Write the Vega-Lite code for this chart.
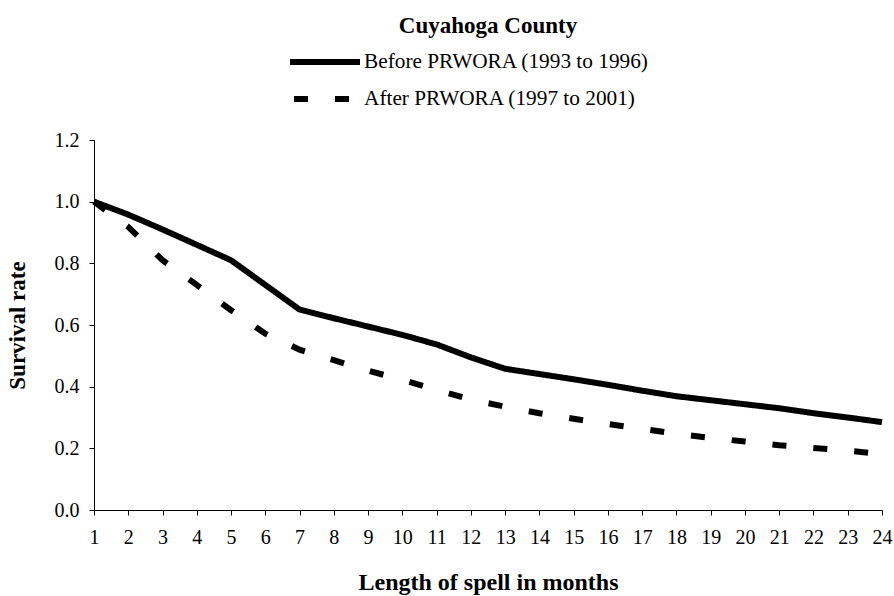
{
  "$schema": "https://vega.github.io/schema/vega-lite/v6.json",
  "width": 788,
  "height": 370,
  "autosize": "none",
  "padding": {"left": 94, "top": 140, "right": 12, "bottom": 86},
  "background": "white",
  "title": {
    "text": "Cuyahoga County",
    "font": "Liberation Serif",
    "fontSize": 23,
    "fontWeight": "bold",
    "color": "black",
    "anchor": "middle",
    "frame": "group",
    "offset": 12
  },
  "data": {
    "values": [
      {"month": 1, "rate": 1.0, "period": "Before PRWORA (1993 to 1996)"},
      {"month": 2, "rate": 0.958, "period": "Before PRWORA (1993 to 1996)"},
      {"month": 3, "rate": 0.91, "period": "Before PRWORA (1993 to 1996)"},
      {"month": 4, "rate": 0.86, "period": "Before PRWORA (1993 to 1996)"},
      {"month": 5, "rate": 0.81, "period": "Before PRWORA (1993 to 1996)"},
      {"month": 6, "rate": 0.73, "period": "Before PRWORA (1993 to 1996)"},
      {"month": 7, "rate": 0.65, "period": "Before PRWORA (1993 to 1996)"},
      {"month": 8, "rate": 0.622, "period": "Before PRWORA (1993 to 1996)"},
      {"month": 9, "rate": 0.595, "period": "Before PRWORA (1993 to 1996)"},
      {"month": 10, "rate": 0.568, "period": "Before PRWORA (1993 to 1996)"},
      {"month": 11, "rate": 0.537, "period": "Before PRWORA (1993 to 1996)"},
      {"month": 12, "rate": 0.495, "period": "Before PRWORA (1993 to 1996)"},
      {"month": 13, "rate": 0.458, "period": "Before PRWORA (1993 to 1996)"},
      {"month": 14, "rate": 0.441, "period": "Before PRWORA (1993 to 1996)"},
      {"month": 15, "rate": 0.424, "period": "Before PRWORA (1993 to 1996)"},
      {"month": 16, "rate": 0.406, "period": "Before PRWORA (1993 to 1996)"},
      {"month": 17, "rate": 0.387, "period": "Before PRWORA (1993 to 1996)"},
      {"month": 18, "rate": 0.369, "period": "Before PRWORA (1993 to 1996)"},
      {"month": 19, "rate": 0.356, "period": "Before PRWORA (1993 to 1996)"},
      {"month": 20, "rate": 0.343, "period": "Before PRWORA (1993 to 1996)"},
      {"month": 21, "rate": 0.33, "period": "Before PRWORA (1993 to 1996)"},
      {"month": 22, "rate": 0.314, "period": "Before PRWORA (1993 to 1996)"},
      {"month": 23, "rate": 0.3, "period": "Before PRWORA (1993 to 1996)"},
      {"month": 24, "rate": 0.285, "period": "Before PRWORA (1993 to 1996)"},
      {"month": 1, "rate": 1.0, "period": "After PRWORA (1997 to 2001)"},
      {"month": 2, "rate": 0.918, "period": "After PRWORA (1997 to 2001)"},
      {"month": 3, "rate": 0.81, "period": "After PRWORA (1997 to 2001)"},
      {"month": 4, "rate": 0.73, "period": "After PRWORA (1997 to 2001)"},
      {"month": 5, "rate": 0.648, "period": "After PRWORA (1997 to 2001)"},
      {"month": 6, "rate": 0.572, "period": "After PRWORA (1997 to 2001)"},
      {"month": 7, "rate": 0.52, "period": "After PRWORA (1997 to 2001)"},
      {"month": 8, "rate": 0.486, "period": "After PRWORA (1997 to 2001)"},
      {"month": 9, "rate": 0.452, "period": "After PRWORA (1997 to 2001)"},
      {"month": 10, "rate": 0.422, "period": "After PRWORA (1997 to 2001)"},
      {"month": 11, "rate": 0.39, "period": "After PRWORA (1997 to 2001)"},
      {"month": 12, "rate": 0.358, "period": "After PRWORA (1997 to 2001)"},
      {"month": 13, "rate": 0.335, "period": "After PRWORA (1997 to 2001)"},
      {"month": 14, "rate": 0.314, "period": "After PRWORA (1997 to 2001)"},
      {"month": 15, "rate": 0.296, "period": "After PRWORA (1997 to 2001)"},
      {"month": 16, "rate": 0.279, "period": "After PRWORA (1997 to 2001)"},
      {"month": 17, "rate": 0.263, "period": "After PRWORA (1997 to 2001)"},
      {"month": 18, "rate": 0.247, "period": "After PRWORA (1997 to 2001)"},
      {"month": 19, "rate": 0.234, "period": "After PRWORA (1997 to 2001)"},
      {"month": 20, "rate": 0.222, "period": "After PRWORA (1997 to 2001)"},
      {"month": 21, "rate": 0.21, "period": "After PRWORA (1997 to 2001)"},
      {"month": 22, "rate": 0.201, "period": "After PRWORA (1997 to 2001)"},
      {"month": 23, "rate": 0.193, "period": "After PRWORA (1997 to 2001)"},
      {"month": 24, "rate": 0.181, "period": "After PRWORA (1997 to 2001)"}
    ]
  },
  "mark": {"type": "line", "color": "black", "strokeWidth": 6, "strokeCap": "butt"},
  "encoding": {
    "x": {
      "field": "month",
      "type": "quantitative",
      "scale": {"domain": [1, 24], "nice": false, "zero": false},
      "axis": {
        "title": "Length of spell in months",
        "values": [1,2,3,4,5,6,7,8,9,10,11,12,13,14,15,16,17,18,19,20,21,22,23,24],
        "format": "d",
        "grid": false,
        "labelPadding": 12,
        "titlePadding": 23,
        "titleFontSize": 24,
        "labelFlush": false,
        "labelOverlap": false
      }
    },
    "y": {
      "field": "rate",
      "type": "quantitative",
      "scale": {"domain": [0, 1.2], "nice": false},
      "axis": {
        "title": "Survival rate",
        "values": [0, 0.2, 0.4, 0.6, 0.8, 1.0, 1.2],
        "format": ".1f",
        "grid": false,
        "labelPadding": 10,
        "titlePadding": 25
      }
    },
    "strokeDash": {
      "field": "period",
      "type": "nominal",
      "scale": {
        "domain": ["Before PRWORA (1993 to 1996)", "After PRWORA (1997 to 2001)"],
        "range": [[1, 0], [14, 27]]
      },
      "legend": {
        "title": null,
        "orient": "none",
        "legendX": 193,
        "legendY": -90,
        "direction": "vertical",
        "symbolType": "stroke",
        "symbolSize": 4900,
        "symbolStrokeWidth": 6,
        "symbolStrokeColor": "black",
        "symbolDashOffset": -4,
        "clipHeight": 24,
        "rowPadding": 13,
        "labelOffset": 1,
        "labelFont": "Liberation Serif",
        "labelFontSize": 21.3,
        "labelColor": "black",
        "labelLimit": 500
      }
    }
  },
  "config": {
    "view": {"stroke": null},
    "axis": {
      "domainColor": "black",
      "domainWidth": 1,
      "tickColor": "black",
      "tickSize": 5,
      "labelFont": "Liberation Serif",
      "labelFontSize": 20,
      "labelColor": "black",
      "titleFont": "Liberation Serif",
      "titleFontSize": 23,
      "titleFontWeight": "bold",
      "titleColor": "black"
    }
  }
}
